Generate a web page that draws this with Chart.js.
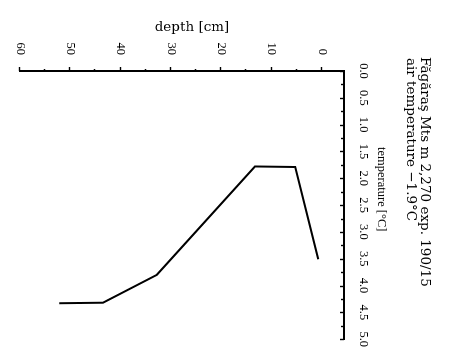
<!DOCTYPE html>
<html>
<head>
<meta charset="utf-8">
<script src="https://cdn.jsdelivr.net/npm/chart.js@4.4.1/dist/chart.umd.min.js"></script>
<style>
  html, body { margin: 0; padding: 0; background: #fff; overflow: hidden; }
  #wrap { position: absolute; left: 0; top: 0; width: 351px; height: 453px;
          transform-origin: 0 0; transform: translate(453px, 0) rotate(90deg); }
</style>
</head>
<body>
<div id="wrap"><canvas id="c" width="351" height="453"></canvas></div>
<script>
// ---- data ----
const temperature = [4.33, 4.32, 3.80, 1.78, 1.79, 3.51];   // °C
const depth       = [52.2, 43.5, 32.8, 13.3, 5.3, 0.7];     // cm
const tempTickLabels  = ['0.0','0.5','1.0','1.5','2.0','2.5','3.0','3.5','4.0','4.5','5.0'];
const depthTickLabels = ['0','10','20','30','40','50','60'];
const titleLines = ['Făgăraş Mts m 2,270 exp. 190/15', 'air temperature −1.9°C'];
const xTitle = 'temperature [°C]';
const yTitle = 'depth [cm]';

const FONT = 'DejaVu Serif';
const TFONT = 'Liberation Serif';
const points = temperature.map((t, i) => ({ x: t, y: depth[i] }));
const tempVals = tempTickLabels.map(Number);
const depthVals = depthTickLabels.map(Number);

const decor = {
  id: 'decor',
  afterDraw(chart) {
    const ctx = chart.ctx;
    const xs = chart.scales.x, ys = chart.scales.y;
    ctx.save();
    ctx.strokeStyle = '#000';
    ctx.lineWidth = 1.4;
    // temperature ticks (inward)
    for (let v = 0; v <= 5.0001; v += 0.25) {
      const px = Math.round(xs.getPixelForValue(v)) + 0.5;
      const major = Math.abs(v * 2 - Math.round(v * 2)) < 1e-6;
      ctx.beginPath();
      ctx.moveTo(px, xs.bottom);
      ctx.lineTo(px, xs.bottom + (major ? 4 : 3));
      ctx.stroke();
    }
    // depth ticks (outward)
    for (let v = 0; v <= 60; v += 5) {
      const py = Math.round(ys.getPixelForValue(v)) + 0.5;
      const major = v % 10 === 0;
      ctx.beginPath();
      ctx.moveTo(ys.right, py);
      ctx.lineTo(ys.right - (major ? 4 : 2), py);
      ctx.stroke();
    }
    // texts
    ctx.fillStyle = '#000';
    ctx.textBaseline = 'middle';
    ctx.textAlign = 'left';
    ctx.font = '13.5px "' + FONT + '"';
    ctx.fillText(titleLines[0], 57, 28);
    ctx.fillText(titleLines[1], 58, 42);
    ctx.font = '12.5px "' + TFONT + '"';
    ctx.fillText(xTitle, 147, 72);
    ctx.save();
    ctx.translate(27, 261);
    ctx.rotate(-Math.PI / 2);
    ctx.textAlign = 'center';
    ctx.font = '13.5px "' + FONT + '"';
    ctx.fillText(yTitle, 0, 0);
    ctx.restore();
    ctx.restore();
  }
};

new Chart(document.getElementById('c'), {
  type: 'scatter',
  data: {
    datasets: [{
      data: points,
      showLine: true,
      borderColor: '#000',
      borderWidth: 2,
      pointRadius: 0,
      fill: false,
      tension: 0
    }]
  },
  options: {
    responsive: false,
    animation: false,
    devicePixelRatio: 1,
    layout: { padding: { left: 0, right: 4, top: 0, bottom: 20 } },
    plugins: { legend: { display: false }, title: { display: false }, tooltip: { enabled: false } },
    scales: {
      x: {
        type: 'linear', position: 'top', min: 0, max: 5,
        afterBuildTicks: s => { s.ticks = tempVals.map(v => ({ value: v })); },
        afterFit: s => { s.height = 109; },
        grid: { display: false },
        border: { display: true, color: '#000', width: 2 },
        ticks: {
          autoSkip: false, maxRotation: 0, padding: 4, color: '#000',
          font: { family: TFONT, size: 12.5 },
          callback: (v) => tempTickLabels[tempVals.indexOf(v)] ?? ''
        }
      },
      y: {
        type: 'linear', position: 'left', min: -4.4, max: 60, reverse: true,
        afterBuildTicks: s => { s.ticks = depthVals.map(v => ({ value: v })); },
        afterFit: s => { s.width = 71; },
        grid: { display: false },
        border: { display: true, color: '#000', width: 2 },
        ticks: {
          autoSkip: false, padding: 8, color: '#000',
          font: { family: TFONT, size: 12.5 },
          callback: (v) => depthTickLabels[depthVals.indexOf(v)] ?? ''
        }
      }
    }
  },
  plugins: [decor]
});
</script>
</body>
</html>
